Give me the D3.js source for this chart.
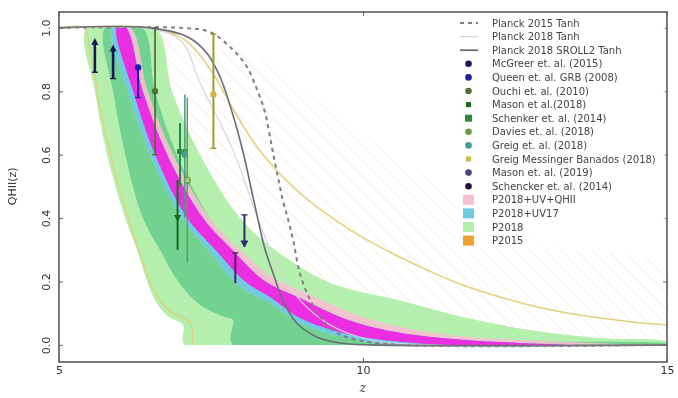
<!DOCTYPE html>
<html>
<head>
<meta charset="utf-8">
<script src="https://cdn.jsdelivr.net/npm/d3@7"></script>
<style>
  body { margin: 0; background: #fff; }
  svg { display: block; font-family: 'DejaVu Sans', sans-serif; filter: blur(0.4px); }
</style>
</head>
<body>
<svg id="chart" width="678" height="398"></svg>
<script>
/*
Curves, as [z, QHII] pairs.
*/
const planck2015Tanh = [[5, 1], [7.0, 1], [7.48, 0.987], [7.86, 0.931], [8.09, 0.877], [8.26, 0.804], [8.39, 0.732], [8.50, 0.625], [8.60, 0.530], [8.68, 0.457], [8.77, 0.394], [8.85, 0.331], [8.96, 0.227], [9.13, 0.142], [9.29, 0.088], [9.57, 0.038], [9.90, 0.016], [10.6, 0], [15, 0]];
const planck2018Tanh = [[5, 1], [6.4, 1], [7.0, 0.96], [7.32, 0.826], [7.86, 0.615], [8.22, 0.426], [8.55, 0.268], [8.96, 0.142], [9.46, 0.063], [10.12, 0.016], [11, 0], [15, 0]];
const sroll2Tanh = [[5, 1], [6.5, 1], [7.11, 0.972], [7.43, 0.921], [7.65, 0.845], [7.86, 0.726], [8.03, 0.606], [8.19, 0.467], [8.31, 0.363], [8.39, 0.30], [8.52, 0.227], [8.68, 0.142], [8.91, 0.069], [9.24, 0.025], [9.62, 0.006], [10.1, 0], [15, 0]];

// P2015 limits (yellow lines) and the upper edge of its hatching
const p2015Lower = [[5, 1], [5.41, 1], [5.51, 0.931], [5.63, 0.80], [5.79, 0.647], [6.0, 0.489], [6.25, 0.331], [6.41, 0.243], [6.58, 0.164], [6.86, 0.101], [7.15, 0.073], [7.19, 0.047], [7.19, 0]];
const p2015Upper = [[5, 1], [6.5, 1], [7.07, 0.962], [7.48, 0.872], [7.86, 0.745], [8.2, 0.64], [8.6, 0.545], [9.0, 0.472], [9.5, 0.400], [10.0, 0.338], [10.56, 0.281], [11.1, 0.232], [11.64, 0.189], [12.2, 0.154], [12.75, 0.125], [13.29, 0.103], [13.85, 0.086], [14.39, 0.073], [15, 0.063]];
const p2015HatchTop = [[6.9, 1], [7.6, 0.97], [8.5, 0.88], [9.5, 0.74], [10.5, 0.6], [11.5, 0.48], [12.5, 0.38], [13.5, 0.31], [15, 0.24]];

// bands: low-z edge and high-z edge, both from QHII = 1 down to 0
const p2018OuterLo = [[5.46, 1], [5.59, 0.80], [5.79, 0.60], [6.09, 0.40], [6.28, 0.30], [6.45, 0.20], [6.58, 0.14], [6.79, 0.09], [7.04, 0.063], [7.07, 0]];
const p2018OuterHi = [[6.58, 1], [6.86, 0.80], [7.32, 0.60], [7.98, 0.40], [8.55, 0.30], [9.46, 0.196], [10.56, 0.142], [11.64, 0.088], [12.75, 0.047], [13.85, 0.022], [15, 0.01], [15, 0]];
const p2018InnerLo = [[5.76, 1], [5.89, 0.80], [6.09, 0.60], [6.38, 0.40], [6.66, 0.30], [6.96, 0.20], [7.32, 0.126], [7.73, 0.088], [7.86, 0.079], [7.86, 0]];
const p2018InnerHi = [[6.37, 1], [6.58, 0.80], [6.94, 0.60], [7.48, 0.40], [7.89, 0.30], [8.39, 0.22], [8.96, 0.151], [9.79, 0.085], [10.61, 0.038], [12.25, 0.013], [15, 0.003], [15, 0]];
const uv17Lo = [[5.87, 1], [6.13, 0.80], [6.50, 0.60], [7.02, 0.40], [7.48, 0.293], [7.98, 0.183], [8.47, 0.132], [8.96, 0.069], [9.79, 0.019], [10.61, 0]];
const qhiiInnerLo = [[5.95, 1], [6.22, 0.80], [6.58, 0.60], [7.11, 0.40], [7.57, 0.30], [8.06, 0.20], [8.47, 0.151], [8.96, 0.085], [9.79, 0.032], [10.61, 0.01], [11.43, 0]];
const qhiiInnerHi = [[6.10, 1], [6.38, 0.80], [6.78, 0.60], [7.37, 0.40], [7.85, 0.30], [8.36, 0.205], [8.96, 0.148], [9.79, 0.076], [10.61, 0.038], [11.64, 0.016], [12.58, 0.006], [13.32, 0]];
const qhiiOuterHi = [[6.18, 1], [6.46, 0.80], [6.88, 0.60], [7.48, 0.40], [7.98, 0.30], [8.50, 0.215], [9.13, 0.158], [9.95, 0.091], [10.77, 0.05], [11.76, 0.025], [12.91, 0.013], [14.23, 0.003], [15, 0]];

// observational constraints
const observations = [
  { key: 'mcgreer', z: 5.59, q: 0.955, lo: 0.86, hi: 0.955 },
  { key: 'mcgreer', z: 5.89, q: 0.935, lo: 0.84, hi: 0.935 },
  { key: 'queen', z: 6.30, q: 0.875, lo: 0.78, hi: 0.875 },
  { key: 'ouchi', z: 6.58, q: 0.80, lo: 0.60, hi: 1.0 },
  { key: 'mason18', z: 6.95, q: 0.40, lo: 0.30, hi: 0.52 },
  { key: 'schenker', z: 6.99, q: 0.61, lo: 0.50, hi: 0.70 },
  { key: 'greig', z: 7.07, q: 0.60, lo: 0.40, hi: 0.79 },
  { key: 'davies', z: 7.11, q: 0.52, lo: 0.26, hi: 0.78 },
  { key: 'gmb', z: 7.54, q: 0.79, lo: 0.62, hi: 0.98 },
  { key: 'schencker', z: 7.90, q: 0.29, lo: 0.195, hi: 0.29 },
  { key: 'mason19', z: 8.05, q: 0.31, lo: 0.31, hi: 0.41 }
];

const legendKeys = ['p15', 'p18', 'sroll2', 'mcgreer', 'queen', 'ouchi', 'mason18', 'schenker', 'davies', 'greig', 'gmb', 'mason19', 'schencker', 'qhii', 'uv17', 'p2018', 'p2015'];
const legendLabels = ['Planck 2015 Tanh', 'Planck 2018 Tanh', 'Planck 2018 SROLL2 Tanh', 'McGreer et. al. (2015)', 'Queen et. al. GRB (2008)', 'Ouchi et. al. (2010)', 'Mason et al.(2018)', 'Schenker et. al. (2014)', 'Davies et. al. (2018)', 'Greig et. al. (2018)', 'Greig Messinger Banados (2018)', 'Mason et. al. (2019)', 'Schencker et. al. (2014)', 'P2018+UV+QHII', 'P2018+UV17', 'P2018', 'P2015'];

const zTicks = [5, 10, 15];
const qTicks = [0, 0.2, 0.4, 0.6, 0.8, 1.0];

/*
Styles.
*/
const colors = {
  p2018Outer: '#b5efae',
  p2018Inner: '#72d28f',
  qhiiOuter: '#f7bfd2',
  uv17: '#6fcbe0',
  qhiiInner: '#ec2ee2',
  yellow: '#e3cf7c',
  hatch: '#ece2cc',
  text: '#333'
};
const obsStyle = {
  mcgreer: { color: '#17175c', marker: 'triUp', bw: 2.6, caps: ['lo'], legend: 'dot' },
  queen: { color: '#1f1fa8', marker: 'dot', bw: 2, caps: ['lo'], legend: 'dot' },
  ouchi: { color: '#56703c', marker: 'dot', bw: 1.8, caps: ['lo', 'hi'], legend: 'dot' },
  mason18: { color: '#146b1a', marker: 'triDown', bw: 2, caps: [], legend: 'smallsq' },
  schenker: { color: '#2b8a3a', marker: 'square', bw: 2, caps: [], legend: 'square' },
  davies: { color: '#6f9a45', marker: 'ring', bw: 1.5, caps: [], legend: 'dot' },
  greig: { color: '#3f9c9a', marker: 'dot', bw: 1.5, caps: [], legend: 'dot' },
  gmb: { color: '#9c9c34', marker: 'dot', bw: 2, caps: ['lo', 'hi'], legend: 'smallsq', fill: '#cdb64c' },
  schencker: { color: '#5b1b63', marker: 'none', bw: 2, caps: ['hi'], legend: 'dot', legendColor: '#2a0a3a' },
  mason19: { color: '#2d2d6e', marker: 'arrowDown', bw: 2, caps: ['hi'], legend: 'dot', legendColor: '#4a4a7a' }
};

const width = 678, height = 398;
const x = d3.scaleLinear([5, 15], [59, 667]);
const y = d3.scaleLinear([-0.054, 1.05], [362, 12]);

const svg = d3.select('#chart');
const defs = svg.append('defs');

defs.append('clipPath').attr('id', 'unit')
  .append('rect')
  .attr('x', x(5)).attr('y', y(1))
  .attr('width', x(15) - x(5)).attr('height', y(0) - y(1));

defs.append('clipPath').attr('id', 'frame')
  .append('rect')
  .attr('x', x(5)).attr('y', y(1.05))
  .attr('width', x(15) - x(5)).attr('height', y(-0.054) - y(1.05));

const hatch = defs.append('pattern')
  .attr('id', 'hatch')
  .attr('patternUnits', 'userSpaceOnUse')
  .attr('width', 11)
  .attr('height', 11)
  .attr('patternTransform', 'rotate(45)');
hatch.append('line')
  .attr('x1', 0).attr('y1', 0).attr('x2', 11).attr('y2', 0)
  .style('stroke', colors.hatch)
  .style('stroke-width', 1.2);

/*
Bands.
*/
const ring = d3.line()
  .curve(d3.curveCatmullRomClosed.alpha(0.5))
  .x(d => x(d[0]))
  .y(d => y(d[1]));
const band = (lo, hi) => lo.concat(hi.slice().reverse());

const bands = svg.append('g').attr('clip-path', 'url(#unit)');

bands.append('path')
  .attr('d', ring(p2015Lower.slice(1).concat([[15, 0]], p2015HatchTop.slice().reverse())))
  .style('fill', 'url(#hatch)')
  .style('opacity', 0.8);

bands.append('path')
  .attr('d', ring(band(p2018OuterLo, p2018OuterHi)))
  .style('fill', colors.p2018Outer);
bands.append('path')
  .attr('d', ring(band(p2018InnerLo, p2018InnerHi)))
  .style('fill', colors.p2018Inner);
bands.append('path')
  .attr('d', ring(band(uv17Lo, qhiiOuterHi)))
  .style('fill', colors.qhiiOuter)
  .style('opacity', 0.9);
bands.append('path')
  .attr('d', ring(band(uv17Lo, qhiiInnerHi)))
  .style('fill', colors.uv17);
bands.append('path')
  .attr('d', ring(band(qhiiInnerLo, qhiiInnerHi)))
  .style('fill', colors.qhiiInner);

/*
Lines.
*/
const line = d3.line()
  .curve(d3.curveCatmullRom.alpha(0.5))
  .x(d => x(d[0]))
  .y(d => y(d[1]));

const lines = svg.append('g').attr('clip-path', 'url(#frame)').style('fill', 'none');

lines.append('path').attr('d', line(p2015Lower))
  .style('stroke', colors.yellow).style('stroke-width', 1.3);
lines.append('path').attr('d', line(p2015Upper))
  .style('stroke', colors.yellow).style('stroke-width', 1.5);
lines.append('path').attr('d', line(planck2018Tanh))
  .style('stroke', '#d4d4e0').style('stroke-width', 1.1);
lines.append('path').attr('d', line(sroll2Tanh))
  .style('stroke', '#6c6c78').style('stroke-width', 1.6);
lines.append('path').attr('d', line(planck2015Tanh))
  .style('stroke', '#7e7e7e').style('stroke-width', 2)
  .style('stroke-dasharray', '4,4');

/*
Observations with error bars.
*/
const obs = svg.append('g')
  .selectAll('g')
  .data(observations)
  .join('g')
  .attr('transform', d => `translate(${x(d.z)},0)`);

obs.append('line')
  .attr('y1', d => y(d.lo))
  .attr('y2', d => y(d.hi))
  .style('stroke', d => obsStyle[d.key].color)
  .style('stroke-width', d => obsStyle[d.key].bw);

obs.each(function (d) {
  const g = d3.select(this);
  const s = obsStyle[d.key];
  s.caps.forEach(end => {
    g.append('line')
      .attr('x1', -3).attr('x2', 3)
      .attr('y1', y(d[end])).attr('y2', y(d[end]))
      .style('stroke', s.color)
      .style('stroke-width', 1.4);
  });
  const cy = y(d.q);
  if (s.marker === 'dot') {
    g.append('circle').attr('cy', cy).attr('r', 3.2)
      .style('fill', s.fill || s.color);
  } else if (s.marker === 'ring') {
    g.append('circle').attr('cy', cy).attr('r', 3)
      .style('fill', '#9ad08a').style('stroke', s.color).style('stroke-width', 1.2);
  } else if (s.marker === 'square') {
    g.append('rect').attr('x', -3).attr('y', cy - 2.5).attr('width', 5).attr('height', 5)
      .style('fill', s.color);
    g.append('rect').attr('x', 2.5).attr('y', cy - 2.5).attr('width', 5).attr('height', 5)
      .style('fill', s.color);
  } else if (s.marker === 'triUp') {
    g.append('path').attr('d', `M-3.5,${cy + 3}L0,${cy - 4}L3.5,${cy + 3}Z`)
      .style('fill', s.color);
  } else if (s.marker === 'triDown') {
    g.append('path').attr('d', `M-3.5,${cy - 3}L0,${cy + 4}L3.5,${cy - 3}Z`)
      .style('fill', s.color);
  } else if (s.marker === 'arrowDown') {
    g.append('path').attr('d', `M-4,${cy - 6}L0,${cy + 1}L4,${cy - 6}Z`)
      .style('fill', s.color);
  }
});

/*
Axes.
*/
svg.append('g')
  .attr('transform', `translate(${x(5)},0)`)
  .call(d3.axisLeft(y).tickValues(qTicks).tickSize(-4).tickSizeOuter(0).tickPadding(9)
    .tickFormat(d3.format('.1f')))
  .call(g => g.select('.domain').remove())
  .call(g => g.selectAll('line').style('stroke', '#666'))
  .selectAll('text')
    .attr('x', 0).attr('y', -9).attr('dy', 0)
    .attr('transform', 'rotate(-90)')
    .attr('text-anchor', 'middle')
    .style('font-family', "'DejaVu Sans', sans-serif")
    .style('font-size', '11px')
    .style('fill', colors.text);

svg.append('g')
  .attr('transform', `translate(${x(15)},0)`)
  .call(d3.axisRight(y).tickValues(qTicks).tickSize(-4).tickSizeOuter(0).tickFormat(''))
  .call(g => g.select('.domain').remove())
  .call(g => g.selectAll('line').style('stroke', '#666'));

svg.append('g')
  .attr('transform', `translate(0,${y(-0.054)})`)
  .call(d3.axisBottom(x).tickValues(zTicks).tickSize(-4).tickSizeOuter(0).tickPadding(4))
  .call(g => g.select('.domain').remove())
  .call(g => g.selectAll('line').style('stroke', '#666'))
  .selectAll('text')
    .style('font-family', "'DejaVu Sans', sans-serif")
    .style('font-size', '11px')
    .style('fill', colors.text);

svg.append('g')
  .attr('transform', `translate(0,${y(1.05)})`)
  .call(d3.axisTop(x).tickValues(zTicks).tickSize(-4).tickSizeOuter(0).tickFormat(''))
  .call(g => g.select('.domain').remove())
  .call(g => g.selectAll('line').style('stroke', '#666'));

svg.append('rect')
  .attr('x', x(5)).attr('y', y(1.05))
  .attr('width', x(15) - x(5)).attr('height', y(-0.054) - y(1.05))
  .style('fill', 'none')
  .style('stroke', '#5a5a5a')
  .style('stroke-width', 1.6);

svg.append('text')
  .attr('x', x(10)).attr('y', 392)
  .attr('text-anchor', 'middle')
  .style('font-family', "'DejaVu Serif', serif")
  .style('font-style', 'italic')
  .style('font-size', '12px')
  .style('fill', colors.text)
  .text('z');

svg.append('text')
  .attr('transform', `translate(16,${y(0.5)}) rotate(-90)`)
  .attr('text-anchor', 'middle')
  .style('font-size', '11px')
  .style('fill', colors.text)
  .text('QHII(z)');

/*
Legend, on a white box that hides the hatching behind it.
*/
svg.append('rect')
  .attr('x', 455).attr('y', 14)
  .attr('width', 210).attr('height', 236)
  .style('fill', '#fff')
  .style('opacity', 0.85);

const legend = svg.append('g')
  .attr('transform', 'translate(458,23)');

const row = legend.selectAll('g')
  .data(legendKeys.map((k, i) => ({ key: k, label: legendLabels[i] })))
  .join('g')
  .attr('transform', (d, i) => `translate(0,${i * 13.6})`);

row.append('text')
  .attr('x', 34).attr('dy', '0.35em')
  .style('font-size', '10px')
  .style('fill', '#444')
  .text(d => d.label);

row.each(function (d) {
  const g = d3.select(this);
  const s = obsStyle[d.key];
  if (d.key === 'p15') {
    g.append('line').attr('x1', 2).attr('x2', 20)
      .style('stroke', '#7e7e7e').style('stroke-width', 1.8).style('stroke-dasharray', '4,4');
  } else if (d.key === 'p18') {
    g.append('line').attr('x1', 2).attr('x2', 20)
      .style('stroke', '#d4d4e0').style('stroke-width', 1.2);
  } else if (d.key === 'sroll2') {
    g.append('line').attr('x1', 2).attr('x2', 20)
      .style('stroke', '#6c6c78').style('stroke-width', 1.8);
  } else if (s) {
    const c = s.legendColor || s.color;
    if (s.legend === 'square') {
      g.append('rect').attr('x', 7).attr('y', -3.5).attr('width', 7).attr('height', 7).style('fill', c);
    } else if (s.legend === 'smallsq') {
      g.append('rect').attr('x', 8).attr('y', -2.5).attr('width', 5).attr('height', 5).style('fill', s.fill || c);
    } else {
      g.append('circle').attr('cx', 10.5).attr('r', 3.3).style('fill', c);
    }
  } else {
    const fill = { qhii: colors.qhiiOuter, uv17: colors.uv17, p2018: colors.p2018Outer, p2015: '#f2a22e' }[d.key];
    g.append('rect').attr('x', 5).attr('y', -5).attr('width', 11).attr('height', 10).style('fill', fill);
  }
});
</script>
</body>
</html>
